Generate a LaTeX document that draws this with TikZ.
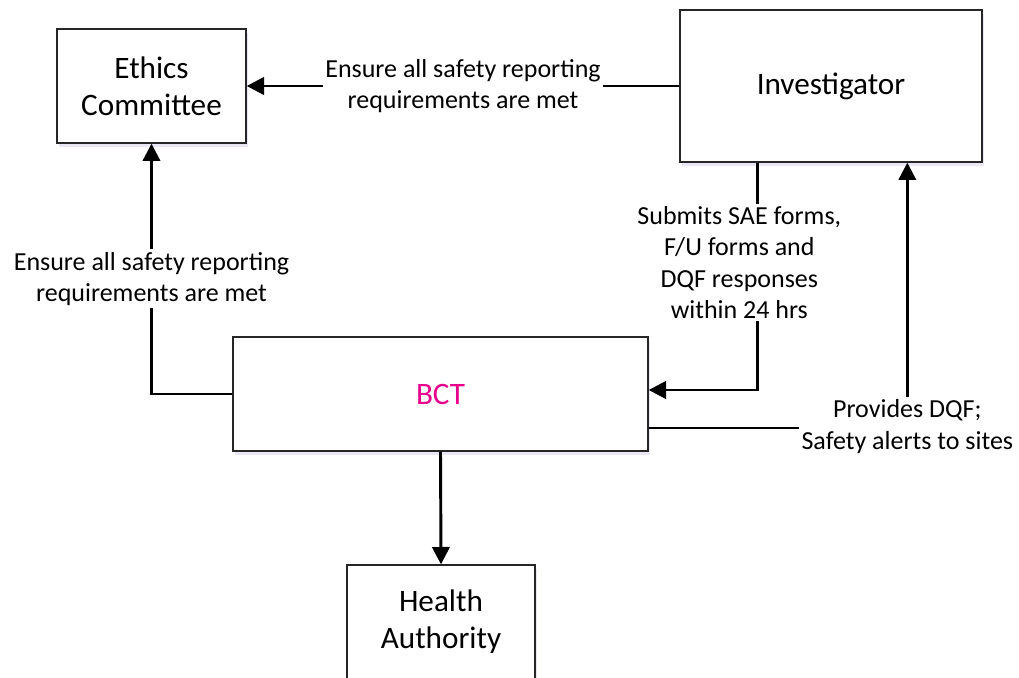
\documentclass[tikz,border=0pt]{standalone}
\usepackage{fontspec}
\setmainfont{Carlito}
\usetikzlibrary{arrows.meta,shadows,calc}
\definecolor{bctpink}{RGB}{232,0,140}
\definecolor{shadowlav}{RGB}{226,220,240}
\begin{document}
\begin{tikzpicture}[x=0.75pt,y=-0.75pt,
  box/.style={draw=black!85,line width=1pt,fill=white,align=center,
    font=\fontsize{23.4}{27.75}\selectfont,
    drop shadow={shadow xshift=1.5pt,shadow yshift=-3pt,fill=shadowlav,opacity=0.7}},
  conn/.style={line width=2.2pt,-{Triangle[length=13pt,width=13pt]}},
  lbl/.style={fill=white,align=center,inner sep=2pt,
    font=\fontsize{19.5}{23.5}\selectfont}]
\useasboundingbox (0,0) rectangle (1019,677);
\node[box,minimum width=141.75pt,minimum height=85.5pt] (ethics) at (151.5,86) {Ethics\\Committee};
\node[box,minimum width=226.5pt,minimum height=114pt] (inv) at (831,86) {Investigator};
\node[box,minimum width=311.25pt,minimum height=85.5pt] (bct) at (440.5,394) {\textcolor{bctpink}{BCT}};
\node[box,minimum width=141pt,minimum height=85.5pt] (ha) at (441,622) {Health\\Authority};
% Investigator -> Ethics
\draw[conn] (inv.west) -- (ethics.east)
  node[lbl,midway] (l1) {Ensure all safety reporting\\requirements are met};
% BCT -> Ethics
\draw[conn] (bct.west) -| (ethics.south)
  node[lbl,pos=0.73] (l2) {Ensure all safety reporting\\requirements are met};
% Investigator -> BCT
\coordinate (invout) at ($(inv.south west)+(78,0)$);
\draw[conn] (invout) |- ($(bct.east)+(0,-4)$)
  node[lbl,pos=0.22,xshift=-13.5pt] (l3) {Submits SAE forms,\\F/U forms and\\DQF responses\\within 24 hrs};
% BCT -> Investigator
\coordinate (invin) at ($(inv.south west)+(228,0)$);
\draw[conn] ($(bct.east)+(0,34)$) -| (invin)
  node[lbl,pos=0.5,yshift=1pt] (l4) {Provides DQF;\\Safety alerts to sites};
% BCT -> Health Authority
\draw[conn] (bct.south) -- (ha.north);
\end{tikzpicture}
\end{document}
